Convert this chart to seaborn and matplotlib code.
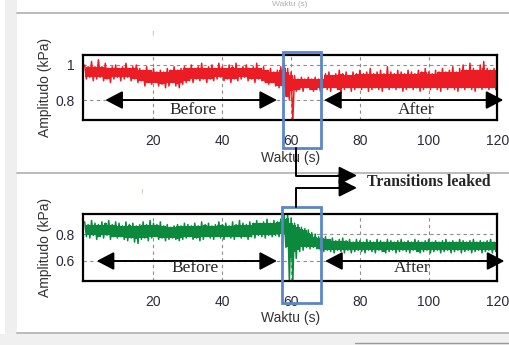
import numpy as np
import pandas as pd
import matplotlib
matplotlib.use("Agg")
import matplotlib.pyplot as plt
import seaborn as sns
from matplotlib.ticker import MultipleLocator, FixedLocator
from matplotlib.patches import Rectangle, FancyArrowPatch
from matplotlib.lines import Line2D
from matplotlib.transforms import Affine2D

# ==========================================
# DATA (1 s steps)
# ==========================================

t = np.arange(0, 121)

red_hi = [
    1.00, 0.99, 1.02, 0.99, 1.03, 0.99, 1.01, 0.98, 0.99, 1.00,
    0.98, 0.99, 1.01, 0.98, 0.99, 1.00, 0.98, 0.97, 0.99, 0.97,
    0.98, 0.96, 0.97, 0.96, 0.98, 0.97, 0.99, 0.97, 0.98, 0.99,
    0.98, 1.00, 0.98, 0.99, 1.01, 0.98, 0.99, 1.00, 0.98, 1.01,
    0.99, 0.98, 1.00, 0.99, 1.01, 0.98, 0.99, 1.00, 0.98, 0.99,
    1.01, 0.98, 0.99, 0.97, 0.98, 0.96, 0.97, 0.99, 1.01, 0.98,
    0.96, 0.94, 0.92, 0.93, 0.92, 0.93, 0.92, 0.93, 0.92, 0.94,
    0.95, 0.96, 0.94, 0.95, 0.97, 0.95, 0.96, 0.94, 0.96, 0.95,
    0.97, 0.95, 0.96, 0.98, 0.95, 0.96, 0.97, 0.95, 0.99, 0.96,
    0.95, 0.97, 0.96, 0.95, 0.97, 0.96, 0.95, 0.97, 0.96, 0.98,
    0.96, 0.95, 0.97, 0.96, 0.98, 0.96, 0.97, 0.99, 0.96, 0.98,
    1.00, 0.97, 1.01, 0.98, 0.97, 1.00, 1.02, 0.98, 0.97, 0.98,
    0.97,
]

red_lo = [
    0.92, 0.93, 0.91, 0.92, 0.93, 0.91, 0.92, 0.90, 0.92, 0.93,
    0.91, 0.92, 0.93, 0.91, 0.92, 0.90, 0.91, 0.88, 0.90, 0.89,
    0.90, 0.88, 0.89, 0.87, 0.88, 0.90, 0.88, 0.87, 0.89, 0.90,
    0.91, 0.90, 0.92, 0.91, 0.92, 0.90, 0.92, 0.91, 0.92, 0.93,
    0.91, 0.92, 0.90, 0.92, 0.91, 0.92, 0.93, 0.91, 0.92, 0.90,
    0.92, 0.91, 0.90, 0.89, 0.90, 0.88, 0.87, 0.88, 0.82, 0.80,
    0.68, 0.85, 0.86, 0.85, 0.87, 0.86, 0.85, 0.86, 0.85, 0.87,
    0.86, 0.85, 0.87, 0.86, 0.84, 0.86, 0.87, 0.85, 0.86, 0.87,
    0.86, 0.87, 0.85, 0.86, 0.87, 0.86, 0.85, 0.87, 0.86, 0.87,
    0.86, 0.87, 0.85, 0.86, 0.87, 0.86, 0.87, 0.85, 0.86, 0.87,
    0.86, 0.87, 0.86, 0.85, 0.87, 0.86, 0.87, 0.86, 0.85, 0.87,
    0.86, 0.87, 0.86, 0.85, 0.87, 0.86, 0.87, 0.86, 0.87, 0.86,
    0.87,
]

green_hi = [
    0.89, 0.87, 0.90, 0.88, 0.87, 0.89, 0.88, 0.90, 0.87, 0.89,
    0.88, 0.86, 0.89, 0.87, 0.88, 0.86, 0.87, 0.89, 0.87, 0.90,
    0.88, 0.87, 0.89, 0.86, 0.87, 0.85, 0.86, 0.87, 0.86, 0.88,
    0.87, 0.86, 0.88, 0.86, 0.89, 0.87, 0.88, 0.86, 0.87, 0.89,
    0.87, 0.88, 0.86, 0.89, 0.87, 0.90, 0.88, 0.87, 0.89, 0.88,
    0.90, 0.88, 0.89, 0.91, 0.88, 0.90, 0.89, 0.91, 0.94, 0.95,
    0.92, 0.88, 0.87, 0.85, 0.84, 0.83, 0.81, 0.80, 0.78, 0.77,
    0.78, 0.76, 0.77, 0.75, 0.76, 0.77, 0.75, 0.76, 0.74, 0.76,
    0.75, 0.74, 0.76, 0.75, 0.74, 0.76, 0.75, 0.74, 0.76, 0.75,
    0.74, 0.75, 0.76, 0.74, 0.75, 0.74, 0.76, 0.75, 0.74, 0.75,
    0.76, 0.74, 0.75, 0.74, 0.75, 0.76, 0.74, 0.75, 0.74, 0.76,
    0.75, 0.74, 0.75, 0.76, 0.74, 0.75, 0.74, 0.75, 0.76, 0.74,
    0.75,
]

green_lo = [
    0.78, 0.77, 0.79, 0.76, 0.78, 0.77, 0.79, 0.76, 0.78, 0.77,
    0.78, 0.76, 0.75, 0.77, 0.74, 0.73, 0.76, 0.77, 0.75, 0.77,
    0.78, 0.76, 0.77, 0.75, 0.76, 0.77, 0.76, 0.75, 0.76, 0.77,
    0.78, 0.76, 0.77, 0.75, 0.76, 0.78, 0.77, 0.76, 0.78, 0.77,
    0.76, 0.78, 0.77, 0.76, 0.78, 0.77, 0.78, 0.76, 0.78, 0.77,
    0.79, 0.78, 0.77, 0.79, 0.78, 0.79, 0.78, 0.80, 0.70, 0.45,
    0.45, 0.62, 0.67, 0.68, 0.70, 0.69, 0.70, 0.69, 0.68, 0.67,
    0.68, 0.67, 0.66, 0.68, 0.67, 0.66, 0.68, 0.66, 0.67, 0.68,
    0.67, 0.66, 0.68, 0.67, 0.66, 0.68, 0.67, 0.66, 0.67, 0.68,
    0.66, 0.67, 0.68, 0.67, 0.66, 0.68, 0.67, 0.66, 0.67, 0.68,
    0.66, 0.67, 0.68, 0.66, 0.67, 0.68, 0.66, 0.67, 0.68, 0.66,
    0.67, 0.68, 0.66, 0.67, 0.68, 0.66, 0.67, 0.68, 0.66, 0.67,
    0.68,
]

x_ticks = [20, 40, 60, 80, 100, 120]
top_yticks = [0.8, 1.0]
top_ylabels = ["0.8", "1"]
bot_yticks = [0.6, 0.8]
bot_ylabels = ["0.6", "0.8"]

# ==========================================
# STYLE
# ==========================================

sns.set_style("white")
plt.rcParams["font.family"] = ["Liberation Sans", "DejaVu Sans"]

RED = "#ec1c24"
GREEN = "#0b8a3d"
BLUE = "#5b87c5"
TICK_COL = "#2a2a3a"

W, H = 510, 345
fig = plt.figure(figsize=(W / 100, H / 100), dpi=100, facecolor="white")

# pixel coords (origin top-left) -> figure
px = Affine2D().scale(1 / W, -1 / H).translate(0, 1) + fig.transFigure

# window chrome behind the plots
fig.add_artist(Rectangle((5, 0), 12, H, transform=px, color="#efefef", lw=0, zorder=-5))
fig.add_artist(Rectangle((0, 334), W, 11, transform=px, color="#f0f0f0", lw=0, zorder=-5))
for yy in [13, 173, 333]:
    fig.add_artist(Line2D([17, W], [yy, yy], transform=px, color="#b4b4b4", lw=1.3, zorder=-4))
fig.add_artist(Line2D([355, W], [343, 343], transform=px, color="#9a9a9a", lw=1.0, zorder=-4))
fig.text(290 / W, 1 - 5 / H, "Waktu (s)", color="#b0b0b0", fontsize=6, ha="center", va="center")
fig.text(152 / W, 1 - 35 / H, "!", color="#f09070", fontsize=6, ha="center", va="center")
fig.text(141 / W, 1 - 192 / H, "!", color="#b8c070", fontsize=6, ha="center", va="center")


def signal_frame(hi, lo):
    # alternate the upper and lower values to form the noisy trace
    xs = np.column_stack([t, t + 0.5]).ravel()
    ys = np.column_stack([hi, lo]).ravel()
    return pd.DataFrame({"Waktu": xs, "Amp": ys})


def draw_signal(ax, hi, lo, color):
    hi = np.asarray(hi)
    lo = np.asarray(lo)
    # solid core of the band: inner edge over neighbouring samples
    core_hi = np.minimum.reduce([hi, np.roll(hi, 1), np.roll(hi, -1)])
    core_lo = np.maximum.reduce([lo, np.roll(lo, 1), np.roll(lo, -1)])
    core_hi = np.maximum(core_hi, core_lo)
    ax.fill_between(t, core_lo, core_hi, color=color, lw=0, step="mid")
    sns.lineplot(data=signal_frame(hi, lo), x="Waktu", y="Amp", ax=ax,
                 color=color, lw=1.1, estimator=None, sort=False)


def style_axes(ax, yticks, ylabels, ylim):
    ax.set_xlim(-0.4, 120)
    ax.set_ylim(*ylim)
    ax.xaxis.set_major_locator(FixedLocator(x_ticks))
    ax.xaxis.set_minor_locator(MultipleLocator(5))
    ax.yaxis.set_major_locator(FixedLocator(yticks))
    ax.yaxis.set_minor_locator(MultipleLocator(0.1))
    ax.set_yticklabels(ylabels)
    ax.tick_params(axis="both", which="both", direction="out", length=3,
                   width=0.8, color="#555555", labelsize=10, labelcolor=TICK_COL)
    ax.tick_params(axis="x", which="major", pad=7)
    ax.tick_params(axis="y", which="major", pad=3)
    ax.grid(True, which="major", color="#8c8c8c", lw=0.8, ls=(0, (3, 3)))
    for s in ax.spines.values():
        s.set_color("black")
        s.set_linewidth(1.6)
    ax.set_xlabel("Waktu (s)", fontsize=10, color="#333333", labelpad=2)
    ax.set_ylabel("Amplitudo (kPa)", fontsize=10, color="#333333", labelpad=3)


def double_arrow(ax, x0, x1, y):
    ax.annotate("", xy=(x1, y), xytext=(x0, y), annotation_clip=False,
                arrowprops=dict(arrowstyle="<|-|>,head_length=1.05,head_width=0.55",
                                mutation_scale=10, lw=1.4, color="black",
                                shrinkA=0, shrinkB=0))


serif = ["Liberation Serif", "DejaVu Serif"]

# ==========================================
# TOP PANEL
# ==========================================

ax1 = fig.add_axes([83.3 / W, 1 - 120 / H, 414.2 / W, 65 / H])
draw_signal(ax1, red_hi, red_lo, RED)
style_axes(ax1, top_yticks, top_ylabels, (0.686, 1.057))
double_arrow(ax1, 6.0, 55.9, 0.8)
double_arrow(ax1, 69.6, 121.7, 0.8)
ax1.text(31.4, 0.743, "Before", family=serif, fontsize=12.5, ha="center", va="center")
ax1.text(96.3, 0.743, "After", family=serif, fontsize=12.5, ha="center", va="center")

# ==========================================
# BOTTOM PANEL
# ==========================================

ax2 = fig.add_axes([83.3 / W, 1 - 280.7 / H, 414.2 / W, 66.4 / H])
draw_signal(ax2, green_hi, green_lo, GREEN)
style_axes(ax2, bot_yticks, bot_ylabels, (0.454, 0.946))
double_arrow(ax2, 3.5, 55.9, 0.6)
double_arrow(ax2, 69.9, 122.0, 0.6)
ax2.text(32.1, 0.546, "Before", family=serif, fontsize=12.5, ha="center", va="center")
ax2.text(95.2, 0.546, "After", family=serif, fontsize=12.5, ha="center", va="center")

# ==========================================
# TRANSITION BOXES AND CALLOUT
# ==========================================

fig.add_artist(Rectangle((282.7, 51.7), 38.3, 96.6, transform=px, fill=False,
                         edgecolor=BLUE, lw=2.0, zorder=10))
fig.add_artist(Rectangle((282.5, 206.7), 38.5, 96.6, transform=px, fill=False,
                         edgecolor=BLUE, lw=2.0, zorder=10))

fig.add_artist(Line2D([296.5, 296.5, 341], [148.3, 175.5, 175.5], transform=px,
                      color="black", lw=1.4, zorder=10))
fig.add_artist(Line2D([296.5, 296.5, 341], [206.7, 187.8, 187.8], transform=px,
                      color="black", lw=1.4, zorder=10))
for yy in [175.5, 187.8]:
    fig.add_artist(FancyArrowPatch((338, yy), (357, yy), transform=px,
                                   arrowstyle="-|>,head_length=1.1,head_width=0.55",
                                   mutation_scale=10, lw=1.4, color="black",
                                   shrinkA=0, shrinkB=0, zorder=10))

fig.text(367 / W, 1 - 181.7 / H, "Transitions leaked", family=serif,
         fontweight="bold", fontsize=11.3, ha="left", va="center")

fig.savefig("out.png", dpi=100, facecolor="white")
